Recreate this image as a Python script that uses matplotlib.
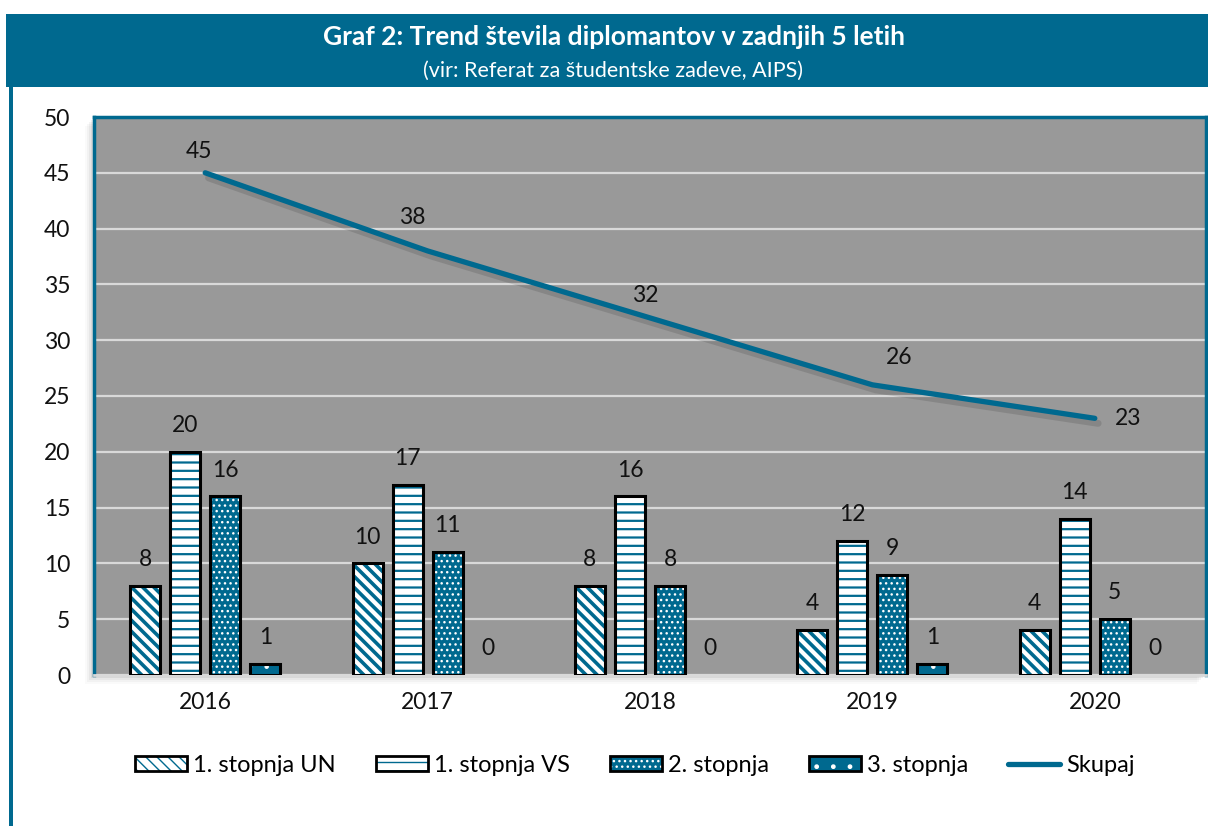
import numpy as np
import matplotlib
matplotlib.use("Agg")
import matplotlib.pyplot as plt
from matplotlib.patches import Rectangle
from matplotlib.legend_handler import HandlerTuple

# data
years = ["2016", "2017", "2018", "2019", "2020"]
un = [8, 10, 8, 4, 4]          # 1. stopnja UN
vs = [20, 17, 16, 12, 14]      # 1. stopnja VS
st2 = [16, 11, 8, 9, 5]        # 2. stopnja
st3 = [1, 0, 0, 1, 0]          # 3. stopnja
skupaj = [45, 38, 32, 26, 23]
series_names = ["1. stopnja UN", "1. stopnja VS", "2. stopnja", "3. stopnja"]

TEAL = "#00698f"
plt.rcParams['font.family'] = ['Lato', 'DejaVu Sans']

fig = plt.figure(figsize=(12.08, 8.26), dpi=100, facecolor='white')

# title band + left frame line
fig.patches.append(Rectangle((6 / 1208, 1 - 87 / 826), 1, 73 / 826, transform=fig.transFigure,
                             facecolor=TEAL, edgecolor='none', zorder=-2))
fig.patches.append(Rectangle((9 / 1208, 0), 4 / 1208, 1 - 87 / 826, transform=fig.transFigure,
                             facecolor=TEAL, edgecolor='none', zorder=-2))
fig.text(614 / 1208, 1 - 37 / 826, "Graf 2: Trend števila diplomantov v zadnjih 5 letih",
         ha='center', va='center', color='white', fontsize=19, fontweight='bold')
fig.text(613 / 1208, 1 - 71 / 826, "(vir: Referat za študentske zadeve, AIPS)",
         ha='center', va='center', color='white', fontsize=15.5)

ax = fig.add_axes([94 / 1208, 1 - 675 / 826, 1112 / 1208, 558 / 826])
ax.set_facecolor('#999999')

# soft shadow of plot area
for i, a in enumerate([0.06, 0.045, 0.03, 0.02]):
    fig.patches.append(Rectangle(((94 - 3 - i * 2) / 1208, 1 - (675 + 3 + i * 2) / 826), 1112 / 1208,
                                 558 / 826, transform=fig.transFigure, facecolor='black',
                                 alpha=a, edgecolor='none', zorder=-1))

x = np.arange(len(years))
step = 0.18
width = 0.135
styles = [
    dict(face='white', hcol=TEAL, hatch='\\\\\\', lw=2.6),
    dict(face='white', hcol=TEAL, hatch='--', lw=1.6),
    dict(face=TEAL, hcol='white', hatch='...', lw=1.0),
    dict(face=TEAL, hcol='white', hatch='.', lw=0.8),
]
handles = []
for k, (vals, st) in enumerate(zip([un, vs, st2, st3], styles)):
    pos = x + (k - 1.5) * step
    vals = np.array(vals)
    nz = vals > 0
    with plt.rc_context({'hatch.linewidth': st['lw']}):
        ax.bar(pos[nz], vals[nz], width, color=st['face'], edgecolor=st['hcol'], hatch=st['hatch'],
               linewidth=0, zorder=3)
        h1 = Rectangle((0, 0), 1, 1, facecolor=st['face'], edgecolor=st['hcol'], hatch=st['hatch'],
                       linewidth=0)
    ax.bar(pos[nz], vals[nz], width, facecolor='none', edgecolor='black', linewidth=2.2, zorder=4)
    for p, v in zip(pos, vals):
        ax.annotate(str(v), (p, v), xytext=(0, 19), textcoords='offset points',
                    ha='center', va='center', fontsize=16.5, color='#111111')
    h2 = Rectangle((0, 0), 1, 1, facecolor='none', edgecolor='black', linewidth=2)
    handles.append((h1, h2))

# total line with shadow
ax.plot(x + 0.015, np.array(skupaj) - 0.45, color='black', alpha=0.12, lw=5, zorder=5,
        solid_capstyle='round')
line, = ax.plot(x, skupaj, color=TEAL, lw=3.8, zorder=6, solid_capstyle='round')
offsets_px = [(-6, 21), (-15, 33), (-5, 22), (27, 27), (33, 0)]
for xi, v, (dx, dy) in zip(x, skupaj, offsets_px):
    ax.annotate(str(v), (xi, v), xytext=(dx * 0.72, dy * 0.72), textcoords='offset points',
                ha='center', va='center', fontsize=16.5, color='#111111', zorder=7)

ax.set_xlim(-0.5, len(years) - 0.5)
ax.set_ylim(0, 50)
ax.set_yticks(range(0, 51, 5))
ax.set_xticks(x)
ax.set_xticklabels(years)
ax.tick_params(length=0, labelsize=16.5, colors='#111111')
ax.tick_params(axis='y', pad=17)
ax.tick_params(axis='x', pad=12)
ax.grid(axis='y', color='#d9d9d9', lw=1.6, zorder=1)
ax.set_axisbelow(True)
for s in ('top', 'left', 'right'):
    ax.spines[s].set_color(TEAL)
    ax.spines[s].set_linewidth(2.5)
ax.spines['bottom'].set_color('#d9d9d9')
ax.spines['bottom'].set_linewidth(2)

handles.append(line)
fig.legend(handles, series_names + ["Skupaj"], loc='center', bbox_to_anchor=(635 / 1208, 1 - 765 / 826),
           ncol=5, frameon=False, fontsize=17, handler_map={tuple: HandlerTuple(ndivide=1)},
           handlelength=2.2, handleheight=0.6, handletextpad=0.25, columnspacing=1.7)

fig.savefig("out.png", dpi=100, facecolor='white')
